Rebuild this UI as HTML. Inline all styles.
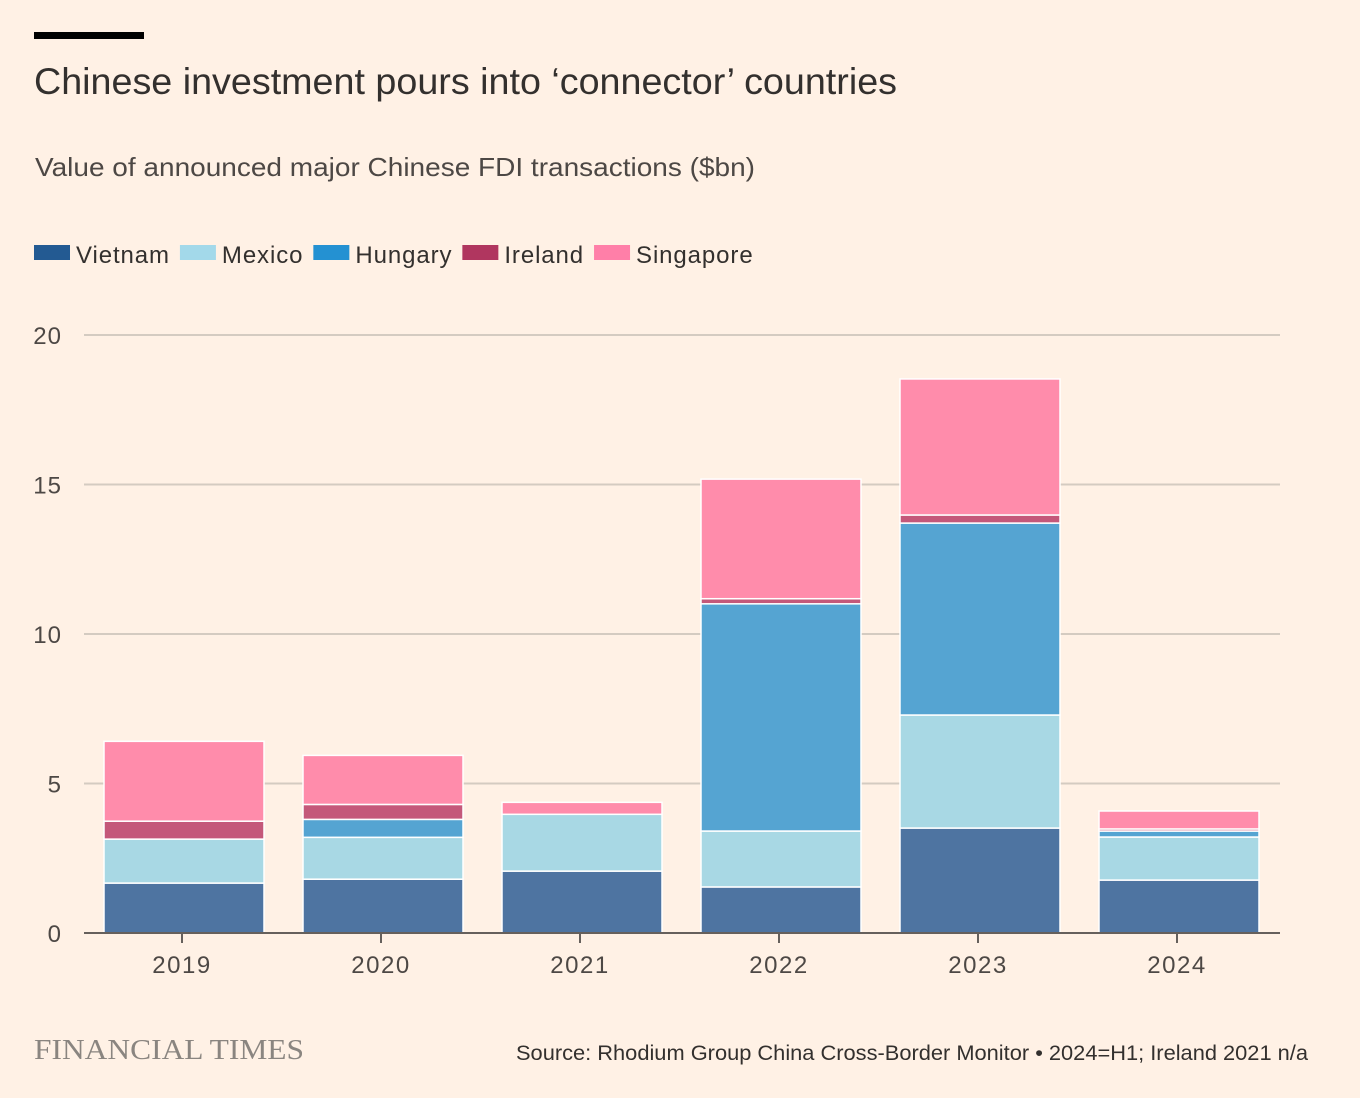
<!DOCTYPE html>
<html><head><meta charset="utf-8"><style>
body{margin:0;background:#fff1e5;width:1360px;height:1098px;overflow:hidden;font-family:"Liberation Sans",sans-serif;color:#33302e}
</style></head><body>
<svg id="c" width="1360" height="1098" style="position:absolute;left:0;top:0">
<rect x="34" y="32" width="110" height="7" fill="#000"/>
<text x="34" y="94" font-size="37" textLength="863" lengthAdjust="spacingAndGlyphs" fill="#33302e">Chinese investment pours into ‘connector’ countries</text>
<text x="35" y="176" font-size="26" textLength="720" lengthAdjust="spacingAndGlyphs" fill="#4d4845">Value of announced major Chinese FDI transactions ($bn)</text>
<g id="legend"></g>
<g id="grid"></g>
<g id="bars"></g>
<g id="xax"></g>
<text x="34" y="1059" font-size="29" textLength="270" lengthAdjust="spacingAndGlyphs" fill="#8a8580" font-family="Liberation Serif,serif">FINANCIAL TIMES</text>
<text x="516" y="1060" font-size="21" textLength="792" lengthAdjust="spacingAndGlyphs" fill="#33302e">Source: Rhodium Group China Cross-Border Monitor • 2024=H1; Ireland 2021 n/a</text>
</svg>
<script>
const years=["2019","2020","2021","2022","2023","2024"];
const seriesNames=["Vietnam","Mexico","Hungary","Ireland","Singapore"];
const vietnam=[1.67,1.8,2.07,1.54,3.51,1.77];
const mexico=[1.47,1.4,1.9,1.87,3.78,1.44];
const hungary=[0,0.6,0,7.6,6.42,0.2];
const ireland=[0.6,0.5,0,0.17,0.27,0.07];
const singapore=[2.67,1.64,0.4,4.0,4.55,0.6];
const yTicks=[0,5,10,15,20];
const barCol=["#4e74a1","#a8d8e4","#55a4d2","#c4587a","#ff8cab"];
const legCol=["#235a92","#a3d9ea","#2491d2","#b0365f","#ff7fa8"];
const NS="http://www.w3.org/2000/svg";
function mk(t,a,p){const e=document.createElementNS(NS,t);for(const k in a)e.setAttribute(k,a[k]);p.appendChild(e);return e;}
const y=v=>933-v*29.9;
const x=i=>104+i*199;
const bw=160;
const grid=document.getElementById('grid');
yTicks.forEach(t=>{
  if(t>0){const l=mk('line',{x1:84,x2:1280,y1:y(t),y2:y(t),stroke:'#d4cbc1','stroke-width':2},grid);
  
  }
  const tx=mk('text',{x:62,y:y(t)+9,'font-size':24,'letter-spacing':1,'text-anchor':'end',fill:'#4d4845'},grid);
  tx.textContent=t;
  
  
});
const bars=document.getElementById('bars');
const data=[vietnam,mexico,hungary,ireland,singapore];
years.forEach((yr,i)=>{
  let acc=0;
  data.forEach((s,j)=>{
    const v=s[i]; if(v<=0)return;
    const r=mk('rect',{x:x(i),y:y(acc+v),width:bw,height:v*29.9,fill:barCol[j],stroke:'#fff','stroke-width':1.5},bars);
    
    
    acc+=v;
  });
});
const xax=document.getElementById('xax');
const al=mk('line',{x1:84,x2:1280,y1:933,y2:933,stroke:'#66605c','stroke-width':2},xax);


years.forEach((yr,i)=>{
  const cx=x(i)+bw/2-2;
  mk('line',{x1:cx,x2:cx,y1:933,y2:943,stroke:'#66605c','stroke-width':2},xax);
  const t=mk('text',{x:cx,y:973,'font-size':24,'letter-spacing':1.5,'text-anchor':'middle',fill:'#4d4845'},xax);
  t.textContent=yr;
  
  
});
const leg=document.getElementById('legend');
let lx=34;
seriesNames.forEach((n,j)=>{
  const g=mk('g',{},leg);
  
  
  mk('rect',{x:lx,y:245,width:36,height:15,fill:legCol[j]},g);
  const t=mk('text',{x:lx+42,y:263,'font-size':24,'letter-spacing':0.9,fill:'#33302e'},g);
  t.textContent=n;
  lx+=42+t.getComputedTextLength()+10;
});
</script>
</body></html>
